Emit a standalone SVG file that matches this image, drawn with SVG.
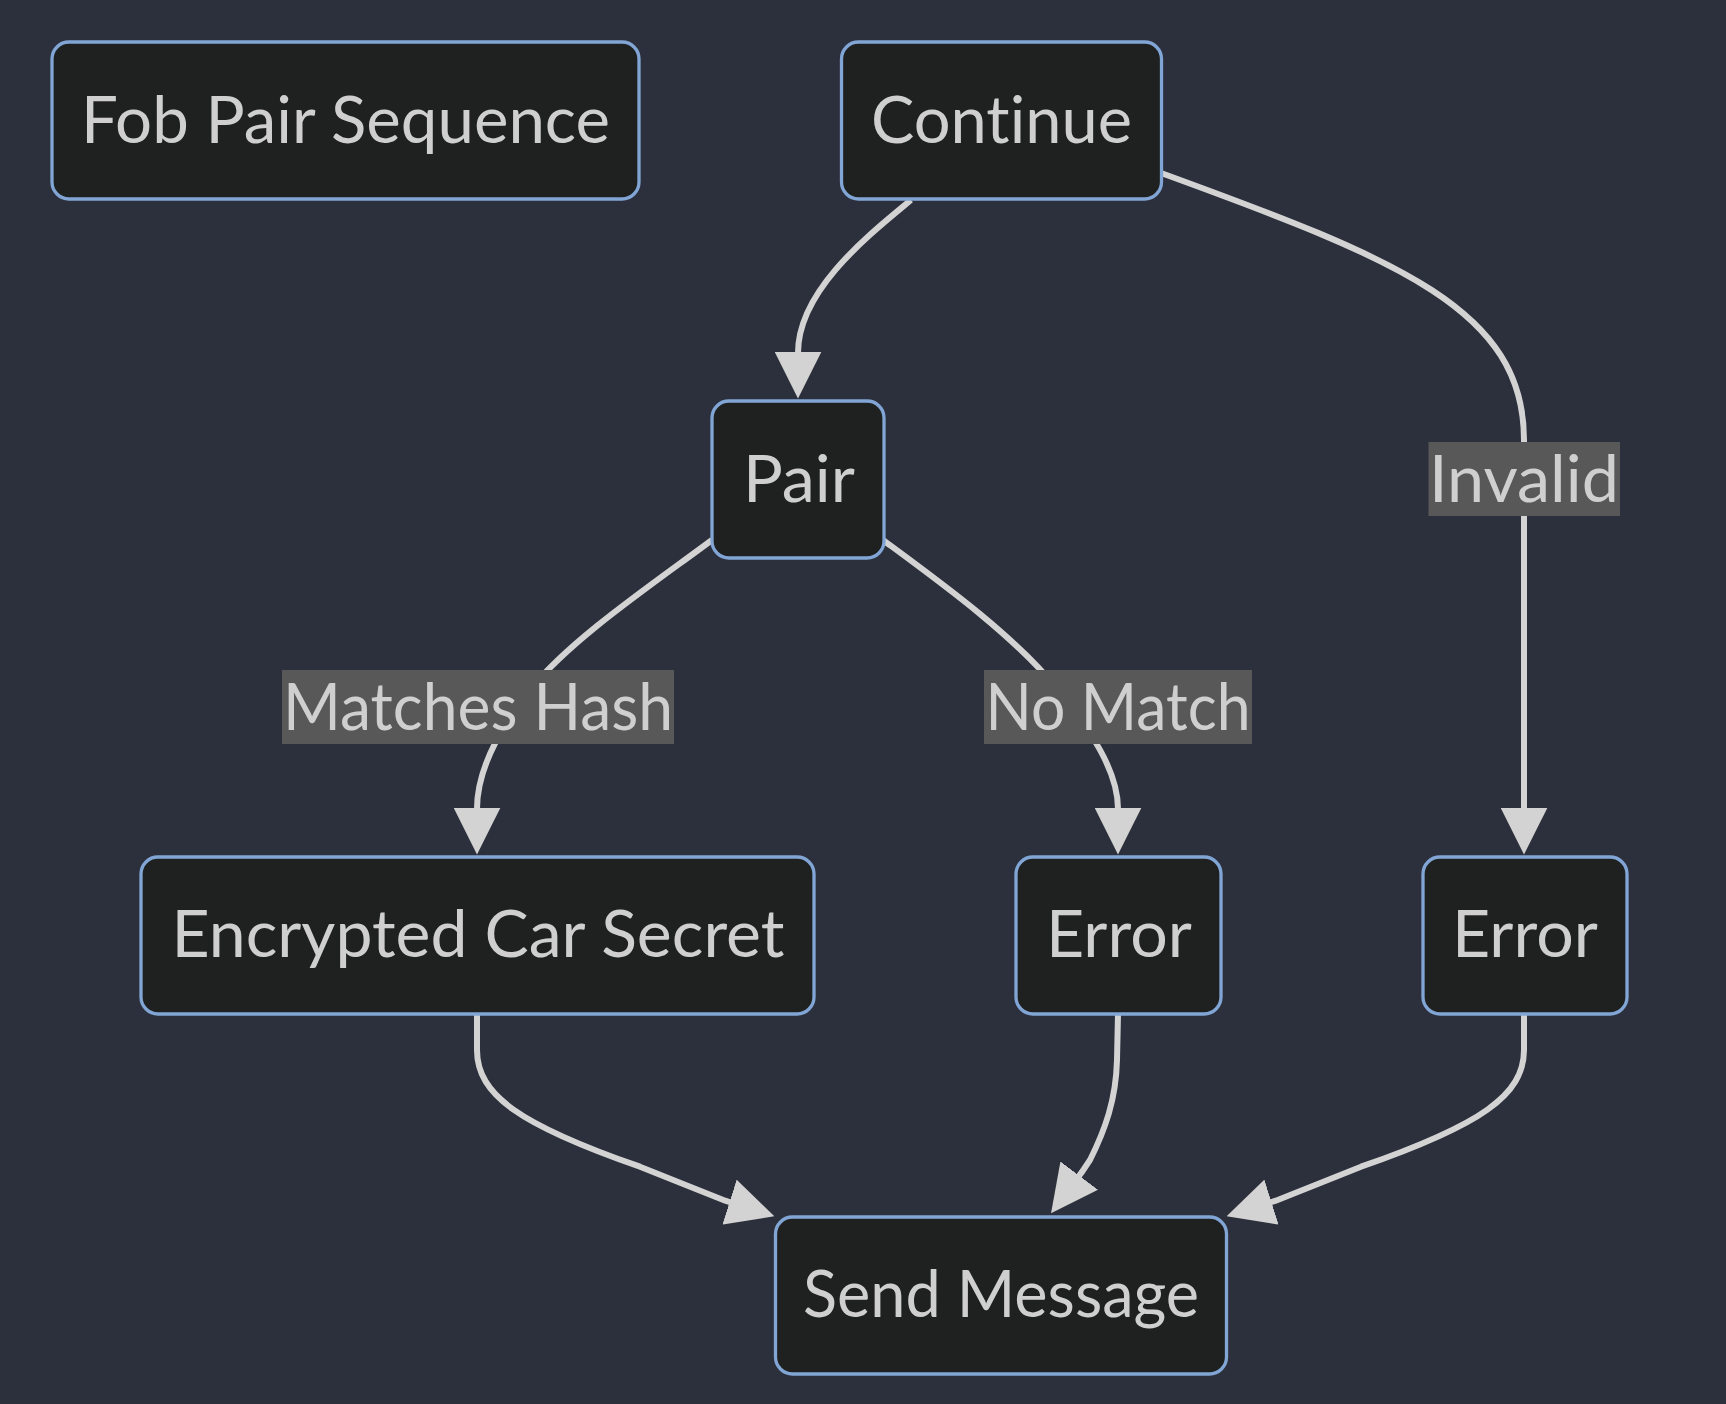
<svg xmlns="http://www.w3.org/2000/svg" width="1726" height="1404" viewBox="0 0 1726 1404">
<style>
.bg{fill:#2c303c}
.node rect{fill:#1f2020;stroke:#81a6d5;stroke-width:3.3}
.node text,.lbl text{font-family:Lato,"Open Sans","Liberation Sans",sans-serif;font-size:65px;fill:#cfcfcf;text-anchor:middle;font-variant-ligatures:none;font-feature-settings:"liga" 0,"clig" 0}
.edge{fill:none;stroke:#d3d3d3;stroke-width:6;marker-end:url(#arrow)}
.lbl rect{fill:#585858}
</style>
<defs>
<marker id="arrow" viewBox="0 0 10 10" refX="0.3" refY="5" markerUnits="userSpaceOnUse" markerWidth="47" markerHeight="47" orient="auto">
<path d="M0,0 L10,5 L0,10 z" fill="#d3d3d3"/>
</marker>
</defs>
<rect class="bg" x="0" y="0" width="1726" height="1404"/>
<g id="connectors">
<path id="e-continue-pair" class="edge" d="M 911,200 C 870,234 798,290 798,353"/>
<path id="e-continue-error2" class="edge" d="M 1161,173 C 1400,260 1524,310 1524,440 L 1524,809"/>
<path id="e-pair-encrypted" class="edge" d="M 712,540 C 650,586 570,640 530,690 C 500,728 477,770 477,809"/>
<path id="e-pair-error1" class="edge" d="M 883,540 C 940,582 1015,636 1058,690 C 1090,730 1118,770 1118,809"/>
<path id="e-encrypted-send" class="edge" d="M 477,1014 L 477,1050 C 477,1095 520,1125 640,1166.7 L 725.2,1200.7 L 730.9,1202.5"/>
<path id="e-error1-send" class="edge" d="M 1118,1014 L 1117,1060 C 1116,1100 1105,1130 1090,1160 L 1082,1171.9 L 1078.4,1176.7"/>
<path id="e-error2-send" class="edge" d="M 1524,1014 L 1524,1050 C 1524,1095 1481,1125 1361,1166.7 L 1275.8,1200.7 L 1270.1,1202.5"/>
<g class="lbl" id="label-invalid"><rect x="1428.5" y="442" width="191.5" height="74"/><text x="1524" y="502" textLength="190" lengthAdjust="spacingAndGlyphs">Invalid</text></g>
<g class="lbl" id="label-matches"><rect x="282" y="670" width="392" height="74"/><text x="478" y="730" textLength="390" lengthAdjust="spacingAndGlyphs">Matches Hash</text></g>
<g class="lbl" id="label-nomatch"><rect x="984" y="670" width="268" height="74"/><text x="1118" y="730" textLength="265" lengthAdjust="spacingAndGlyphs">No Match</text></g>
</g>
<g id="node-fob" class="node"><rect x="52" y="42" width="587" height="157" rx="17"/><text x="345.5" y="143" textLength="529" lengthAdjust="spacingAndGlyphs">Fob Pair Sequence</text></g>
<g id="node-continue" class="node"><rect x="841.5" y="42" width="320" height="157" rx="17"/><text x="1001.5" y="143" textLength="261" lengthAdjust="spacingAndGlyphs">Continue</text></g>
<g id="node-pair" class="node"><rect x="712" y="401" width="172" height="157" rx="17"/><text x="799" y="502" textLength="112" lengthAdjust="spacingAndGlyphs">Pair</text></g>
<g id="node-encrypted" class="node"><rect x="141" y="857" width="673" height="157" rx="17"/><text x="478" y="957" textLength="613" lengthAdjust="spacingAndGlyphs">Encrypted Car Secret</text></g>
<g id="node-error1" class="node"><rect x="1016" y="857" width="205" height="157" rx="17"/><text x="1119" y="957" textLength="146" lengthAdjust="spacingAndGlyphs">Error</text></g>
<g id="node-error2" class="node"><rect x="1423" y="857" width="204" height="157" rx="17"/><text x="1525" y="957" textLength="146" lengthAdjust="spacingAndGlyphs">Error</text></g>
<g id="node-send" class="node"><rect x="775.5" y="1217" width="451" height="157" rx="17"/><text x="1001" y="1317" textLength="396" lengthAdjust="spacingAndGlyphs">Send Message</text></g>
</svg>
